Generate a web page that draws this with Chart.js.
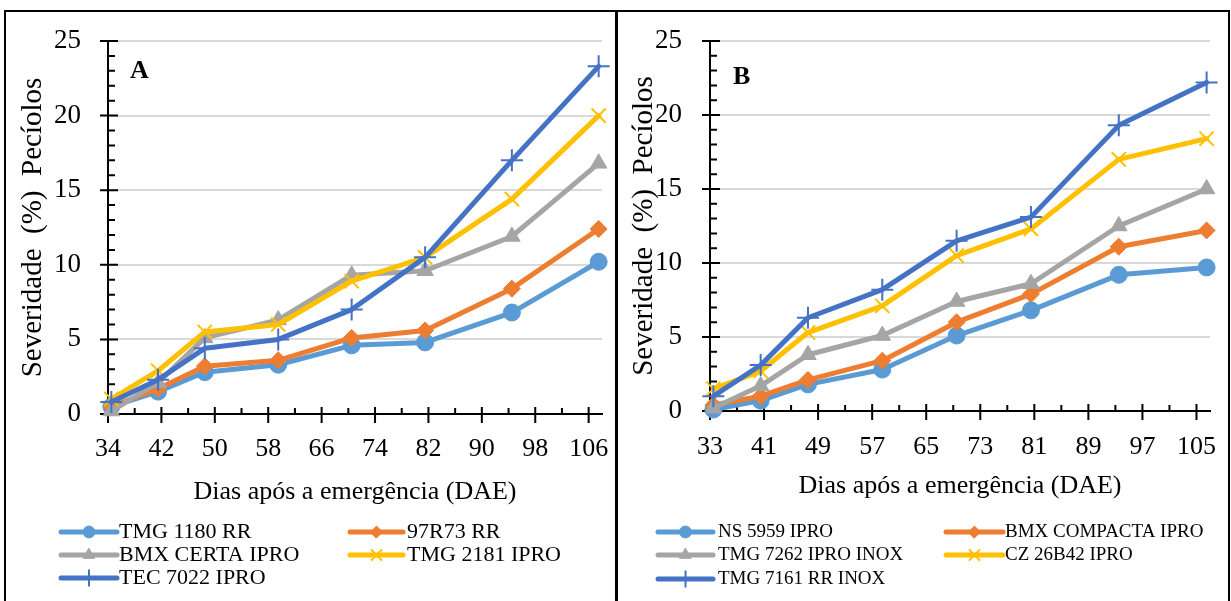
<!DOCTYPE html>
<html lang="pt-BR">
<head>
<meta charset="utf-8">
<title>Severidade em pecíolos</title>
<script src="https://cdn.jsdelivr.net/npm/chart.js@4.4.1/dist/chart.umd.min.js"></script>
<style>
  html, body { margin: 0; padding: 0; background: #fff; }
  body { width: 1231px; height: 601px; position: relative; overflow: hidden; }
  .frame { position: absolute; top: 10px; height: 600px; border: 2px solid #000; box-sizing: border-box; }
  #frameA { left: 4px; width: 614px; }
  #frameB { left: 615px; width: 615px; }
  canvas { position: absolute; }
  #chartA { left: 5px; top: 11px; }
  #chartB { left: 616px; top: 11px; }
</style>
</head>
<body>
<div class="frame" id="frameA"></div>
<div class="frame" id="frameB"></div>
<canvas id="chartA" width="625" height="590"></canvas>
<canvas id="chartB" width="615" height="590"></canvas>
<script>
const FONT = '"Liberation Serif", "Times New Roman", serif';

// Painel A
const daysA = [34, 41, 48, 59, 70, 81, 94, 107];
const xTicksA = [34, 42, 50, 58, 66, 74, 82, 90, 98, 106];
const cultivarsA = ['TMG 1180 RR', '97R73 RR', 'BMX CERTA IPRO', 'TMG 2181 IPRO', 'TEC 7022 IPRO'];
const tmg1180 = [0.5, 1.5, 2.8, 3.3, 4.6, 4.8, 6.8, 10.2];
const r97r73 = [0.5, 1.7, 3.2, 3.6, 5.1, 5.6, 8.4, 12.4];
const bmxCerta = [0.2, 2.1, 5.1, 6.3, 9.3, 9.6, 11.9, 16.8];
const tmg2181 = [1.0, 2.9, 5.5, 6.0, 8.9, 10.5, 14.4, 20.0];
const tec7022 = [0.8, 2.3, 4.4, 5.0, 7.0, 10.5, 17.0, 23.3];

// Painel B
const daysB = [33, 40, 47, 58, 69, 80, 93, 106];
const xTicksB = [33, 41, 49, 57, 65, 73, 81, 89, 97, 105];
const cultivarsB = ['NS 5959 IPRO', 'BMX COMPACTA IPRO', 'TMG 7262 IPRO INOX', 'CZ 26B42 IPRO', 'TMG 7161 RR INOX'];
const ns5959 = [0.1, 0.7, 1.8, 2.8, 5.1, 6.8, 9.2, 9.7];
const bmxCompacta = [0.4, 1.0, 2.1, 3.4, 6.0, 7.9, 11.1, 12.2];
const tmg7262 = [0.2, 1.7, 3.8, 5.1, 7.4, 8.6, 12.5, 15.0];
const cz26b42 = [1.5, 2.7, 5.3, 7.1, 10.5, 12.3, 17.0, 18.4];
const tmg7161 = [1.0, 3.1, 6.3, 8.2, 11.5, 13.1, 19.3, 22.2];

const yTicks = [0, 5, 10, 15, 20, 25];

const seriesColors = ['#5B9BD5', '#ED7D31', '#A5A5A5', '#FFC000', '#4472C4'];
const markerStyles = ['circle', 'rectRot', 'triangle', 'crossRot', 'cross'];
const markerRadius = [8.5, 8.5, 9.5, 10, 11];

// each day is a one-day bin on the date axis, points sit at the bin centre
function buildDatasets(names, days, series) {
    return series.map((values, i) => ({
        label: names[i],
        data: values.map((v, j) => ({ x: days[j] + 0.5, y: v })),
        borderColor: seriesColors[i],
        backgroundColor: seriesColors[i],
        borderWidth: 5,
        borderCapStyle: 'round',
        borderJoinStyle: 'round',
        pointStyle: markerStyles[i],
        pointRadius: markerRadius[i],
        pointBorderWidth: i >= 3 ? 2 : 1,
        pointBackgroundColor: seriesColors[i],
        pointBorderColor: seriesColors[i],
        order: series.length - i,
        tension: 0,
        clip: false,
    }));
}

// axis tick marks (major crossing the axis, minor inside) under the lines
const axisTicks = {
    id: 'axisTicks',
    beforeDatasetsDraw(chart, args, opts) {
        const { ctx, chartArea } = chart;
        const x = chart.scales.x;
        const y = chart.scales.y;
        const bottom = chartArea.bottom;
        const left = chartArea.left;
        ctx.save();
        ctx.strokeStyle = '#000';
        ctx.lineWidth = 2;
        ctx.beginPath();
        opts.xTicks.forEach((v) => {
            const px = x.getPixelForValue(v);
            ctx.moveTo(px, bottom - 7);
            ctx.lineTo(px, bottom + 9);
            const m = v + opts.xMinor;
            if (m < x.max) {
                const pm = x.getPixelForValue(m);
                ctx.moveTo(pm, bottom - 6);
                ctx.lineTo(pm, bottom);
            }
        });
        for (let v = y.min; v <= y.max; v += 1) {
            const py = y.getPixelForValue(v);
            if (yTicks.includes(v)) {
                ctx.moveTo(left - 8, py);
                ctx.lineTo(left + 10, py);
            } else {
                ctx.moveTo(left, py);
                ctx.lineTo(left + 7, py);
            }
        }
        ctx.stroke();
        ctx.restore();
    },
};

// panel letter and two-column legend below the axis
const panelLegend = {
    id: 'panelLegend',
    afterDraw(chart, args, opts) {
        const { ctx, chartArea } = chart;
        ctx.save();
        ctx.fillStyle = '#000';
        ctx.font = `bold 26px ${FONT}`;
        ctx.textBaseline = 'alphabetic';
        ctx.fillText(opts.letter, chartArea.left + opts.letterDx, chartArea.top + opts.letterDy);

        chart.data.datasets.forEach((ds, i) => {
            const col = opts.cols[i % 2];
            const rowY = opts.rows[Math.floor(i / 2)];
            ctx.strokeStyle = ds.borderColor;
            ctx.lineWidth = 5;
            ctx.lineCap = 'round';
            ctx.beginPath();
            ctx.moveTo(col.x1, rowY);
            ctx.lineTo(col.x2, rowY);
            ctx.stroke();

            ctx.fillStyle = ds.pointBackgroundColor;
            ctx.strokeStyle = ds.pointBorderColor;
            ctx.lineWidth = ds.pointBorderWidth;
            Chart.helpers.drawPoint(ctx, {
                pointStyle: ds.pointStyle,
                radius: ds.pointRadius * 0.7,
                rotation: 0,
                borderWidth: ds.pointBorderWidth,
            }, (col.x1 + col.x2) / 2, rowY);

            ctx.fillStyle = '#000';
            ctx.font = `${opts.fontSize}px ${FONT}`;
            ctx.textBaseline = 'middle';
            ctx.textAlign = 'left';
            ctx.fillText(ds.label, col.tx, rowY);
        });
        ctx.restore();
    },
};

function makePanel(canvasId, cfg) {
    return new Chart(document.getElementById(canvasId), {
        type: 'line',
        data: { datasets: cfg.datasets },
        plugins: [axisTicks, panelLegend],
        options: {
            responsive: false,
            animation: false,
            devicePixelRatio: 1,
            events: [],
            layout: { padding: cfg.padding, autoPadding: false },
            plugins: {
                legend: { display: false },
                tooltip: { enabled: false },
                axisTicks: { xTicks: cfg.xTicks, xMinor: 4 },
                panelLegend: cfg.legend,
            },
            scales: {
                x: {
                    type: 'linear',
                    min: cfg.xMin,
                    max: cfg.xMax,
                    afterBuildTicks: (axis) => { axis.ticks = cfg.xTicks.map((v) => ({ value: v })); },
                    afterFit: (axis) => {
                        axis.height = 100;
                        axis.paddingLeft = 0;
                        axis.paddingRight = 0;
                    },
                    grid: { display: false, drawTicks: false },
                    border: { display: true, color: '#000', width: 2 },
                    ticks: {
                        color: '#000',
                        font: { family: FONT, size: 26 },
                        padding: cfg.xTickPad,
                        maxRotation: 0,
                        autoSkip: false,
                    },
                    title: {
                        display: true,
                        text: 'Dias após a emergência (DAE)',
                        color: '#000',
                        font: { family: FONT, size: 26 },
                        padding: { top: 0, bottom: cfg.xTitlePad },
                    },
                },
                y: {
                    min: 0,
                    max: 25,
                    afterBuildTicks: (axis) => { axis.ticks = yTicks.map((v) => ({ value: v })); },
                    afterFit: (axis) => {
                        axis.width = cfg.yWidth;
                        axis.paddingTop = 0;
                        axis.paddingBottom = 0;
                    },
                    grid: {
                        color: (c) => (c.tick && c.tick.value === 0 ? 'rgba(0,0,0,0)' : '#D9D9D9'),
                        lineWidth: 2,
                        drawTicks: false,
                    },
                    border: { display: true, color: '#000', width: 2 },
                    ticks: {
                        color: '#000',
                        font: { family: FONT, size: 27 },
                        padding: cfg.yTickPad,
                    },
                    title: {
                        display: true,
                        text: 'Severidade  (%)  Pecíolos',
                        color: '#000',
                        font: { family: FONT, size: 29 },
                        padding: { top: 11, bottom: 0 },
                    },
                },
            },
        },
    });
}

makePanel('chartA', {
    datasets: buildDatasets(cultivarsA, daysA, [tmg1180, r97r73, bmxCerta, tmg2181, tec7022]),
    xTicks: xTicksA,
    xMin: 34,
    xMax: 108,
    yWidth: 103,
    padding: { left: 0, top: 30, right: 28, bottom: 87 },
    xTickPad: 20,
    xTitlePad: 6,
    yTickPad: 27,
    legend: {
        letter: 'A',
        letterDx: 22,
        letterDy: 37,
        fontSize: 22,
        cols: [{ x1: 56, x2: 112, tx: 114 }, { x1: 345, x2: 398, tx: 402 }],
        rows: [521, 544, 567],
    },
});

makePanel('chartB', {
    datasets: buildDatasets(cultivarsB, daysB, [ns5959, bmxCompacta, tmg7262, cz26b42, tmg7161]),
    xTicks: xTicksB,
    xMin: 33,
    xMax: 107,
    yWidth: 94,
    padding: { left: 0, top: 30, right: 21, bottom: 90 },
    xTickPad: 21,
    xTitlePad: 9,
    yTickPad: 28,
    legend: {
        letter: 'B',
        letterDx: 23,
        letterDy: 43,
        fontSize: 19,
        cols: [{ x1: 42, x2: 97, tx: 102 }, { x1: 330, x2: 387, tx: 389 }],
        rows: [521, 544, 568],
    },
});
</script>
</body>
</html>
